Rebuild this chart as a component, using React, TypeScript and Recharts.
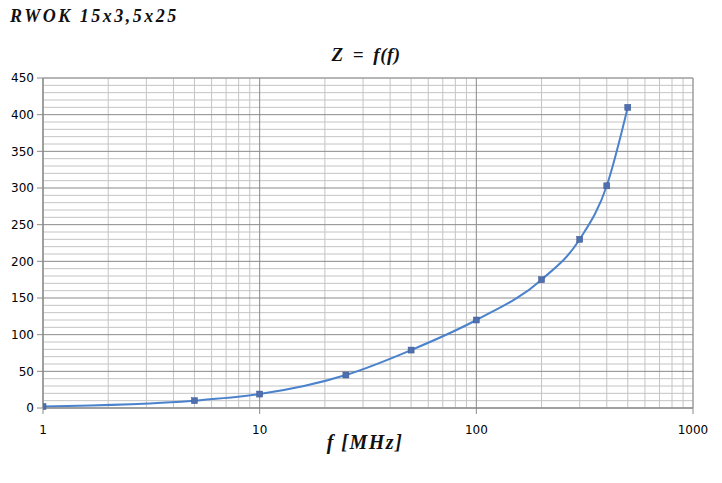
import React from "react";
import {
  LineChart,
  Line,
  XAxis,
  YAxis,
  CartesianGrid,
} from "recharts";

const frequencies = [1, 5, 10, 25, 50, 100, 200, 300, 400, 500];
const impedances = [2, 10, 19, 45, 79, 120, 175, 230, 303, 410];

const xMajorTicks = [1, 10, 100, 1000];
const xMinorTicks = [2, 3, 4, 5, 6, 7, 8, 9, 20, 30, 40, 50, 60, 70, 80, 90, 200, 300, 400, 500, 600, 700, 800, 900];
const yMajorTicks = [0, 50, 100, 150, 200, 250, 300, 350, 400, 450];
const yMinorTicks = [
  10, 20, 30, 40, 60, 70, 80, 90, 110, 120, 130, 140, 160, 170, 180, 190,
  210, 220, 230, 240, 260, 270, 280, 290, 310, 320, 330, 340, 360, 370, 380, 390,
  410, 420, 430, 440,
];

const data = frequencies.map((f, i) => ({ f, z: impedances[i] }));

const MAJOR = "#8a8a8a";
const MINOR = "#c4c4c4";
const LINE = "#4a82cc";

const MinorXTick = (props: any) => {
  const { x, y } = props;
  return <line x1={x} x2={x} y1={y} y2={y + 3} stroke={MINOR} />;
};

const NoTick = () => <g />;

const Marker = (props: any) => {
  const { cx, cy, index } = props;
  return (
    <rect key={`m-${index}`} x={cx - 3} y={cy - 3} width={6} height={6} fill="#4f6fae" stroke="#3c5a94" strokeWidth={0.5} />
  );
};

export default function App() {
  return (
    <div style={{ position: "absolute", left: 0, top: 0, width: 722, height: 483, background: "#fff" }}>
      <div
        style={{
          position: "absolute",
          left: 10,
          top: 6,
          fontFamily: "Liberation Serif",
          fontWeight: "bold",
          fontStyle: "italic",
          fontSize: 18,
          letterSpacing: 2.5,
          color: "#111",
        }}
      >
        RWOK 15x3,5x25
      </div>
      <div
        style={{
          position: "absolute",
          left: 266,
          width: 200,
          top: 44,
          textAlign: "center",
          fontFamily: "Liberation Serif",
          fontWeight: "bold",
          fontStyle: "italic",
          fontSize: 19,
          wordSpacing: 4,
          letterSpacing: 0.5,
          color: "#111",
        }}
      >
        Z = f(f)
      </div>
      <div
        style={{
          position: "absolute",
          left: 265,
          width: 200,
          top: 431,
          textAlign: "center",
          fontFamily: "Liberation Serif",
          fontWeight: "bold",
          fontStyle: "italic",
          fontSize: 20,
          letterSpacing: 1.5,
          color: "#111",
        }}
      >
        f [MHz]
      </div>
      <LineChart
        width={722}
        height={483}
        data={data}
        margin={{ top: 78, right: 29, bottom: 45, left: 0 }}
        style={{ position: "absolute", left: 0, top: 0 }}
      >
        <CartesianGrid stroke={MINOR} xAxisId="minor" yAxisId="minor" />
        <CartesianGrid stroke={MAJOR} xAxisId="major" yAxisId="major" />
        <XAxis
          xAxisId="minor"
          dataKey="f"
          type="number"
          scale="log"
          domain={[1, 1000]}
          ticks={xMinorTicks}
          interval={0}
          height={0}
          axisLine={false}
          tickLine={false}
          tickSize={0}
          tickMargin={0}
          tick={<MinorXTick />}
          allowDataOverflow
        />
        <YAxis
          yAxisId="minor"
          dataKey="z"
          type="number"
          domain={[0, 450]}
          ticks={yMinorTicks}
          interval={0}
          width={1}
          axisLine={false}
          tickLine={false}
          tickSize={0}
          tickMargin={0}
          tick={<NoTick />}
          allowDataOverflow
        />
        <XAxis
          xAxisId="major"
          dataKey="f"
          type="number"
          scale="log"
          domain={[1, 1000]}
          ticks={xMajorTicks}
          interval={0}
          height={30}
          tickSize={6}
          tickMargin={11}
          tickLine={{ stroke: MAJOR }}
          axisLine={{ stroke: MAJOR }}
          tick={{ fontSize: 12, fontFamily: "DejaVu Sans", fill: "#000" }}
          allowDataOverflow
        />
        <YAxis
          yAxisId="major"
          type="number"
          domain={[0, 450]}
          ticks={yMajorTicks}
          interval={0}
          width={42}
          tickSize={6}
          tickMargin={3}
          tickLine={{ stroke: MAJOR }}
          axisLine={{ stroke: MAJOR }}
          tick={{ fontSize: 12, fontFamily: "DejaVu Sans", fill: "#000" }}
        />
        <Line
          xAxisId="major"
          yAxisId="major"
          dataKey="z"
          type="monotone"
          stroke={LINE}
          strokeWidth={2}
          dot={<Marker />}
          activeDot={false}
          isAnimationActive={false}
        />
      </LineChart>
    </div>
  );
}
